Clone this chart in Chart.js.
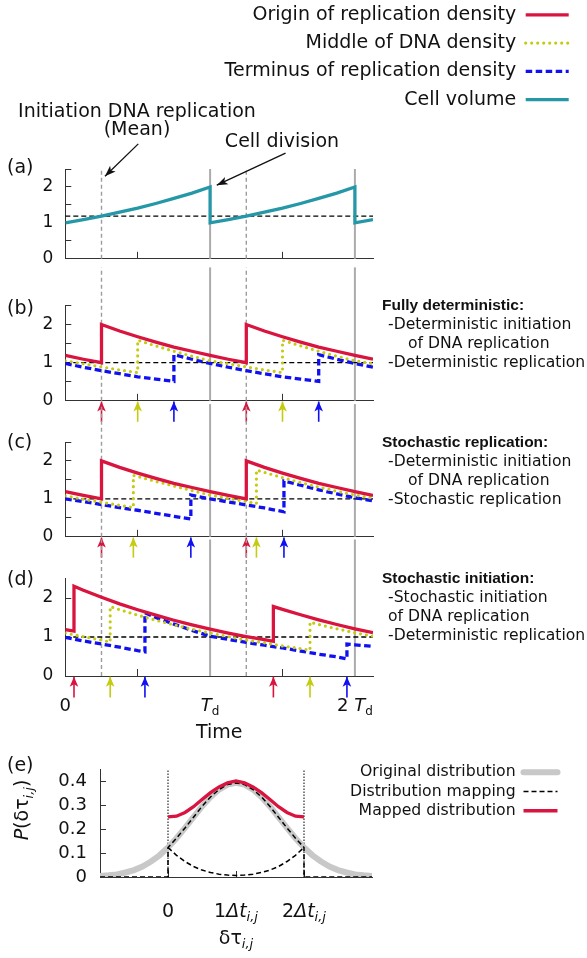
<!DOCTYPE html>
<html><head><meta charset="utf-8">
<script src="https://cdn.jsdelivr.net/npm/chart.js"></script>
<style>
html,body{margin:0;padding:0;background:#fff;}
#fig{position:relative;width:587px;height:958px;overflow:hidden;font-family:"DejaVu Sans";color:#111;}
canvas{position:absolute;}
.c{position:absolute;white-space:nowrap;transform:translate(-50%,-50%);line-height:22px;}
.l{position:absolute;white-space:nowrap;transform:translateY(-50%);line-height:20px;}
.big{font-size:19px;}
.side{font-size:15.6px;}
.hd{font-family:"Liberation Sans";font-weight:bold;font-size:15.5px;}
</style></head><body><div id="fig">
<canvas id="cA" width="587" height="188" style="left:0;top:99px"></canvas>
<canvas id="cB" width="587" height="165" style="left:0;top:264px"></canvas>
<canvas id="cC" width="587" height="164" style="left:0;top:401px"></canvas>
<canvas id="cD" width="587" height="213" style="left:0;top:537px"></canvas>
<canvas id="cE" width="587" height="218" style="left:0;top:740px"></canvas>
<canvas id="legTop" width="400" height="300" style="left:178px;top:-4px"></canvas>
<canvas id="legE" width="300" height="160" style="left:261px;top:761px"></canvas>

<div class="c big" style="left:137px;top:110px">Initiation DNA replication</div>
<div class="c big" style="left:137px;top:128px">(Mean)</div>
<div class="c big" style="left:282px;top:140px">Cell division</div>

<div class="l big" style="left:7px;top:166px">(a)</div>
<div class="l big" style="left:7px;top:307px">(b)</div>
<div class="l big" style="left:7px;top:441px">(c)</div>
<div class="l big" style="left:7px;top:578px">(d)</div>
<div class="l big" style="left:7px;top:764px">(e)</div>

<div class="l hd" style="left:382px;top:305px">Fully deterministic:</div>
<div class="l side" style="left:388px;top:324px">-Deterministic initiation</div>
<div class="l side" style="left:408px;top:343px">of DNA replication</div>
<div class="l side" style="left:388px;top:362px">-Deterministic replication</div>

<div class="l hd" style="left:382px;top:442px">Stochastic replication:</div>
<div class="l side" style="left:388px;top:461px">-Deterministic initiation</div>
<div class="l side" style="left:408px;top:480px">of DNA replication</div>
<div class="l side" style="left:388px;top:499px">-Stochastic replication</div>

<div class="l hd" style="left:382px;top:578px">Stochastic initiation:</div>
<div class="l side" style="left:388px;top:597px">-Stochastic initiation</div>
<div class="l side" style="left:388px;top:616px">of DNA replication</div>
<div class="l side" style="left:388px;top:635px">-Deterministic replication</div>
</div>
<script>
// ================= DATA =================
const timeRange = [0, 2.125];                 // in units of T_d
const timeTicks = [0, 0.5, 1, 1.5, 2];
const densityTicks = [0, 0.5, 1, 1.5, 2, 2.5];
const timeTickLabels = [
  {value: 0, parts: [['0', 'n']]},
  {value: 1, parts: [['T', 'i'], ['d', 'sub']]},
  {value: 2, parts: [['2 ', 'n'], ['T', 'i'], ['d', 'sub']]}
];
const meanInitiationTimes = [0.25, 1.25];
const divisionTimes = [1, 2];
const initiationVolume = 1.19;
const densityThreshold = 1;

// (a) cell volume
const volumeA = [[0,1.00],[0.125,1.09],[0.25,1.19],[0.375,1.30],[0.5,1.41],[0.625,1.54],[0.75,1.68],[0.875,1.83],[1,2.00],[1,1.00],[1.125,1.09],[1.25,1.19],[1.375,1.30],[1.5,1.41],[1.625,1.54],[1.75,1.68],[1.875,1.83],[2,2.00],[2,1.00],[2.125,1.09]];

// (b) fully deterministic
const originB = [[0,1.19],[0.125,1.09],[0.25,1.00],[0.25,2.00],[0.375,1.83],[0.5,1.68],[0.625,1.54],[0.75,1.41],[0.875,1.30],[1,1.19],[1.125,1.09],[1.25,1.00],[1.25,2.00],[1.375,1.83],[1.5,1.68],[1.625,1.54],[1.75,1.41],[1.875,1.30],[2,1.19],[2.125,1.09]];
const middleB = [[0,1.05],[0.125,0.97],[0.25,0.89],[0.375,0.81],[0.5,0.74],[0.5,1.59],[0.625,1.44],[0.75,1.30],[0.875,1.17],[1,1.05],[1.125,0.97],[1.25,0.89],[1.375,0.81],[1.5,0.74],[1.5,1.59],[1.625,1.44],[1.75,1.30],[1.875,1.17],[2,1.05],[2.125,0.97]];
const terminusB = [[0,0.98],[0.125,0.88],[0.25,0.79],[0.375,0.71],[0.5,0.63],[0.625,0.57],[0.75,0.51],[0.75,1.21],[0.875,1.09],[1,0.98],[1.125,0.88],[1.25,0.79],[1.375,0.71],[1.5,0.63],[1.625,0.57],[1.75,0.51],[1.75,1.21],[1.875,1.09],[2,0.98],[2.125,0.88]];
const originEventsB = [0.25, 1.25];
const middleEventsB = [0.5, 1.5];
const terminusEventsB = [0.75, 1.75];

// (c) stochastic replication
const originC = [[0,1.19],[0.125,1.09],[0.25,1.00],[0.25,2.00],[0.375,1.83],[0.5,1.68],[0.625,1.54],[0.75,1.41],[0.875,1.30],[1,1.19],[1.125,1.09],[1.25,1.00],[1.25,2.00],[1.375,1.83],[1.5,1.68],[1.625,1.54],[1.75,1.41],[1.875,1.30],[2,1.19],[2.125,1.09]];
const middleC = [[0,1.08],[0.125,0.99],[0.25,0.91],[0.375,0.83],[0.47,0.77],[0.47,1.62],[0.625,1.46],[0.75,1.34],[0.875,1.22],[1,1.10],[1.125,1.01],[1.25,0.93],[1.32,0.88],[1.32,1.76],[1.375,1.70],[1.5,1.56],[1.625,1.43],[1.75,1.31],[1.875,1.20],[2,1.10],[2.125,1.02]];
const terminusC = [[0,1.00],[0.125,0.93],[0.25,0.85],[0.375,0.77],[0.5,0.70],[0.625,0.62],[0.75,0.54],[0.867,0.47],[0.867,1.10],[1,1.00],[1.125,0.92],[1.25,0.84],[1.375,0.76],[1.51,0.66],[1.51,1.47],[1.625,1.36],[1.75,1.24],[1.875,1.13],[2,1.03],[2.125,0.95]];
const originEventsC = [0.25, 1.25];
const middleEventsC = [0.47, 1.32];
const terminusEventsC = [0.867, 1.51];

// (d) stochastic initiation
const originD = [[0,1.19],[0.06,1.15],[0.06,2.30],[0.125,2.20],[0.25,2.02],[0.375,1.85],[0.5,1.70],[0.625,1.56],[0.75,1.43],[0.875,1.31],[1,1.20],[1.125,1.10],[1.25,1.01],[1.375,0.93],[1.437,0.89],[1.437,1.78],[1.5,1.71],[1.625,1.57],[1.75,1.44],[1.875,1.32],[2,1.21],[2.125,1.11]];
const middleD = [[0,1.10],[0.125,1.01],[0.25,0.92],[0.31,0.87],[0.31,1.78],[0.375,1.70],[0.5,1.56],[0.625,1.43],[0.75,1.31],[0.875,1.20],[1,1.10],[1.125,1.01],[1.25,0.92],[1.375,0.85],[1.5,0.77],[1.625,0.70],[1.69,0.66],[1.69,1.38],[1.75,1.32],[1.875,1.21],[2,1.11],[2.125,1.02]];
const terminusD = [[0,0.99],[0.125,0.90],[0.25,0.82],[0.375,0.74],[0.5,0.65],[0.55,0.62],[0.55,1.62],[0.625,1.50],[0.75,1.33],[0.875,1.17],[1,1.02],[1.125,0.94],[1.25,0.86],[1.375,0.79],[1.5,0.72],[1.625,0.64],[1.75,0.56],[1.875,0.49],[1.945,0.44],[1.945,0.82],[2,0.80],[2.125,0.76]];
const originEventsD = [0.06, 1.437];
const middleEventsD = [0.31, 1.69];
const terminusEventsD = [0.55, 1.945];

// (e) distributions
const deltaRange = [-1, 3];
const deltaTicks = [0, 1, 2];
const probTicks = [0, 0.05, 0.1, 0.15, 0.2, 0.25, 0.3, 0.35, 0.4, 0.45];
const mappingBounds = [0, 2];
const deltaTickLabels = [
  {value: 0, parts: [['0', 'n']]},
  {value: 1, parts: [['1', 'n'], ['Δt', 'i'], ['i,j', 'isub']]},
  {value: 2, parts: [['2', 'n'], ['Δt', 'i'], ['i,j', 'isub']]}
];
const originalDist = [[-1,0.004],[-0.875,0.007],[-0.75,0.011],[-0.625,0.019],[-0.5,0.029],[-0.375,0.044],[-0.25,0.065],[-0.125,0.091],[0,0.124],[0.125,0.163],[0.25,0.206],[0.375,0.251],[0.5,0.296],[0.625,0.336],[0.75,0.367],[0.875,0.388],[1,0.395],[1.125,0.388],[1.25,0.367],[1.375,0.336],[1.5,0.296],[1.625,0.251],[1.75,0.206],[1.875,0.163],[2,0.124],[2.125,0.091],[2.25,0.065],[2.375,0.044],[2.5,0.029],[2.625,0.019],[2.75,0.011],[2.875,0.007],[3,0.004]];
const mappingDirect = [[-1,0],[0,0],[0,0.124],[0.125,0.163],[0.25,0.206],[0.375,0.251],[0.5,0.296],[0.625,0.336],[0.75,0.367],[0.875,0.388],[1,0.395],[1.125,0.388],[1.25,0.367],[1.375,0.336],[1.5,0.296],[1.625,0.251],[1.75,0.206],[1.875,0.163],[2,0.124],[2,0],[3,0]];
const mappingFolded = [[0,0.124],[0.125,0.091],[0.25,0.065],[0.375,0.044],[0.5,0.029],[0.625,0.019],[0.75,0.012],[0.875,0.008],[1,0.006],[1.125,0.008],[1.25,0.012],[1.375,0.019],[1.5,0.029],[1.625,0.044],[1.75,0.065],[1.875,0.091],[2,0.124]];
const mappedDist = [[0,0.252],[0.125,0.255],[0.25,0.271],[0.375,0.295],[0.5,0.325],[0.625,0.354],[0.75,0.378],[0.875,0.395],[1,0.403],[1.125,0.395],[1.25,0.378],[1.375,0.354],[1.5,0.325],[1.625,0.295],[1.75,0.271],[1.875,0.255],[2,0.252]];

// ================= STYLE / RENDER =================
Chart.defaults.font.family = 'DejaVu Sans';
Chart.defaults.color = '#111';
const FF = '"DejaVu Sans"';
const COL = {origin:'#d8143f', middle:'#c4cb10', terminus:'#1010f0', volume:'#2697a7'};
const STY = {
  origin:   {label:'Origin of replication density', borderColor:COL.origin, backgroundColor:COL.origin, borderWidth:3.3},
  middle:   {label:'Middle of DNA density', borderColor:COL.middle, backgroundColor:COL.middle, borderWidth:3.2, borderDash:[0,6], borderCapStyle:'round'},
  terminus: {label:'Terminus of replication density', borderColor:COL.terminus, backgroundColor:COL.terminus, borderWidth:3.3, borderDash:[6.5,3.5]},
  volume:   {label:'Cell volume', borderColor:COL.volume, backgroundColor:COL.volume, borderWidth:3.3}
};
const pts = a => a.map(([x, y]) => ({x, y}));
const series = (arr, sty, extra) => Object.assign({data: pts(arr), pointRadius: 0, fill: false, tension: 0, borderJoinStyle: 'miter'}, sty, extra || {});

function drawRich(ctx, parts, cx, cy, size) {
  const sub = Math.round(size * 0.68);
  const fonts = {n: `${size}px ${FF}`, i: `italic ${size}px ${FF}`, sub: `${sub}px ${FF}`, isub: `italic ${sub}px ${FF}`};
  let total = 0;
  parts.forEach(([t, s]) => { ctx.font = fonts[s]; total += ctx.measureText(t).width; });
  let x = cx - total / 2;
  ctx.textAlign = 'left'; ctx.textBaseline = 'middle';
  parts.forEach(([t, s]) => {
    ctx.font = fonts[s];
    const dy = (s === 'sub' || s === 'isub') ? size * 0.32 : 0;
    ctx.fillText(t, x, cy + dy);
    x += ctx.measureText(t).width;
  });
}

const arrowPlugin = {
  id: 'arrowHeads',
  afterDatasetsDraw(chart) {
    const ctx = chart.ctx;
    chart.data.datasets.forEach((ds, i) => {
      if (!ds.arrowHead) return;
      const p = chart.getDatasetMeta(i).data;
      const a = p[p.length - 2], b = p[p.length - 1];
      const ang = Math.atan2(b.y - a.y, b.x - a.x);
      const {len, half} = ds.arrowHead;
      const bx = b.x - len * Math.cos(ang), by = b.y - len * Math.sin(ang);
      ctx.save();
      ctx.fillStyle = ds.borderColor;
      ctx.beginPath();
      ctx.moveTo(b.x, b.y);
      ctx.lineTo(bx + half * Math.sin(ang), by - half * Math.cos(ang));
      ctx.lineTo(bx + 0.25 * len * Math.cos(ang), by + 0.25 * len * Math.sin(ang));
      ctx.lineTo(bx - half * Math.sin(ang), by + half * Math.cos(ang));
      ctx.closePath();
      ctx.fill();
      ctx.restore();
    });
  }
};

function eventArrows(times, color) {
  return times.map(t => ({data: [{x: t, y: -0.55}, {x: t, y: -0.02}], borderColor: color, borderWidth: 1.6,
    pointRadius: 0, clip: false, arrowHead: {len: 10, half: 4.3}}));
}
function refLines(top) {
  const out = [];
  meanInitiationTimes.forEach(t => out.push({data: [{x: t, y: 0}, {x: t, y: top}], borderColor: '#9c9c9c', borderWidth: 1.4, borderDash: [4, 3], pointRadius: 0, clip: false}));
  divisionTimes.forEach(t => out.push({data: [{x: t, y: 0}, {x: t, y: top}], borderColor: '#ababab', borderWidth: 2, pointRadius: 0, clip: false}));
  return out;
}
const hLine = v => ({data: [{x: timeRange[0], y: v}, {x: timeRange[1], y: v}], borderColor: '#000', borderWidth: 1.3, borderDash: [5, 3], pointRadius: 0});

function panelScales(axisH, showTitle) {
  return {
    x: {type: 'linear', min: timeRange[0], max: timeRange[1],
      afterBuildTicks: s => { s.ticks = timeTicks.map(v => ({value: v})); },
      afterFit: s => { s.height = axisH; },
      grid: {drawOnChartArea: false, tickLength: -7, color: '#333'},
      border: {color: '#333', width: 1},
      ticks: {display: false},
      title: showTitle ? {display: true, text: 'Time', font: {size: 19}, color: '#111', padding: {top: 0, bottom: 6}} : {display: false}},
    y: {type: 'linear', min: 0, max: 2.5,
      afterBuildTicks: s => { s.ticks = densityTicks.map(v => ({value: v})); },
      afterFit: s => { s.width = 65.3; },
      grid: {drawOnChartArea: false, tickLength: -6, color: '#333'},
      border: {color: '#333', width: 1},
      ticks: {font: {size: 17}, color: '#111', padding: 18, callback: v => Number.isInteger(v) ? String(v) : ''}}
  };
}
function baseOptions(padTop, padRight, scales) {
  return {responsive: false, animation: false, devicePixelRatio: 1, events: [],
    layout: {autoPadding: false, padding: {top: padTop, left: 0, right: padRight, bottom: 0}},
    plugins: {legend: {display: false}, tooltip: {enabled: false}},
    scales};
}

// (a)
new Chart(document.getElementById('cA'), {type: 'line', plugins: [arrowPlugin],
  data: {datasets: [
    {data: [{x: 0.504, y: 3.20}, {x: 0.274, y: 2.30}], borderColor: '#111', borderWidth: 1.3, pointRadius: 0, clip: false, arrowHead: {len: 11, half: 4}},
    {data: [{x: 1.521, y: 2.94}, {x: 1.046, y: 2.05}], borderColor: '#111', borderWidth: 1.3, pointRadius: 0, clip: false, arrowHead: {len: 11, half: 4}},
    series(volumeA, STY.volume),
    hLine(initiationVolume),
    ...refLines(2.5)
  ]},
  options: baseOptions(70, 214, panelScales(20.5, false))
});

function densityPanel(id, padTop, axisH, o, m, t, oe, me, te, withTitle, extraPlugins) {
  new Chart(document.getElementById(id), {type: 'line', plugins: [arrowPlugin, ...(extraPlugins || [])],
    data: {datasets: [
      ...eventArrows(oe, COL.origin), ...eventArrows(me, COL.middle), ...eventArrows(te, COL.terminus),
      series(o, STY.origin), series(m, STY.middle), series(t, STY.terminus),
      hLine(densityThreshold),
      ...refLines(3.5)
    ]},
    options: baseOptions(padTop, 214, panelScales(axisH, withTitle))
  });
}
const timeLabelPlugin = {id: 'timeLabels', afterDraw(chart) {
  const xs = chart.scales.x, ctx = chart.ctx;
  ctx.save(); ctx.fillStyle = '#111';
  timeTickLabels.forEach(l => drawRich(ctx, l.parts, xs.getPixelForValue(l.value), chart.chartArea.bottom + 30, 18));
  ctx.restore();
}};
densityPanel('cB', 41.5, 26, originB, middleB, terminusB, originEventsB, middleEventsB, terminusEventsB, false);
densityPanel('cC', 41, 25.5, originC, middleC, terminusC, originEventsC, middleEventsC, terminusEventsC, false);
densityPanel('cD', 41.5, 74, originD, middleD, terminusD, originEventsD, middleEventsD, terminusEventsD, true, [timeLabelPlugin]);

// (e)
const ePlugin = {id: 'eLabels', afterDraw(chart) {
  const xs = chart.scales.x, ctx = chart.ctx, ca = chart.chartArea;
  ctx.save(); ctx.fillStyle = '#111';
  deltaTickLabels.forEach(l => drawRich(ctx, l.parts, xs.getPixelForValue(l.value), ca.bottom + 35, 19));
  drawRich(ctx, [['δτ', 'n'], ['i,j', 'isub']], (ca.left + ca.right) / 2, ca.bottom + 62, 19);
  ctx.translate(23.5, 70);
  ctx.rotate(-Math.PI / 2);
  drawRich(ctx, [['P', 'i'], ['(δτ', 'n'], ['i,j', 'isub'], [')', 'n']], 0, 0, 19);
  ctx.restore();
}};
const STE = {
  original: {label: 'Original distribution', borderColor: '#c8c8c8', backgroundColor: '#c8c8c8', borderWidth: 6, borderCapStyle: 'round'},
  mapping:  {label: 'Distribution mapping', borderColor: '#000', backgroundColor: '#000', borderWidth: 1.5, borderDash: [5, 3]},
  mapped:   {label: 'Mapped distribution', borderColor: COL.origin, backgroundColor: COL.origin, borderWidth: 3.3}
};
new Chart(document.getElementById('cE'), {type: 'line', plugins: [ePlugin],
  data: {datasets: [
    series(mappedDist, STE.mapped),
    series(mappingDirect, STE.mapping),
    series(mappingFolded, STE.mapping, {label: ''}),
    series(originalDist, STE.original),
    ...mappingBounds.map(b => ({data: [{x: b, y: 0}, {x: b, y: 0.45}], borderColor: '#000', borderWidth: 1, borderDash: [1.5, 1.5], pointRadius: 0}))
  ]},
  options: baseOptions(20.5, 215, {
    x: {type: 'linear', min: deltaRange[0], max: deltaRange[1],
      afterBuildTicks: s => { s.ticks = deltaTicks.map(v => ({value: v})); },
      afterFit: s => { s.height = 81; },
      grid: {drawOnChartArea: false, tickLength: -6, color: '#333'}, border: {color: '#333', width: 1},
      ticks: {display: false}},
    y: {type: 'linear', min: 0, max: 0.45,
      afterBuildTicks: s => { s.ticks = probTicks.map(v => ({value: v})); },
      afterFit: s => { s.width = 100; },
      grid: {drawOnChartArea: false, tickLength: -6, color: '#333'}, border: {color: '#333', width: 1},
      ticks: {font: {size: 18}, color: '#111', padding: 19,
        callback: v => Math.abs(v * 10 - Math.round(v * 10)) < 1e-9 ? String(Math.round(v * 10) / 10) : ''}}
  })
});

// legends (line samples carry each dataset's own dash pattern)
function legendChart(id, styles, fontSize, pad, lineW) {
  new Chart(document.getElementById(id), {type: 'line',
    data: {datasets: styles.map(s => Object.assign({data: [], pointRadius: 0}, s))},
    options: {responsive: false, animation: false, devicePixelRatio: 1, events: [],
      layout: {autoPadding: false, padding: 0},
      scales: {x: {type: 'linear', display: false}, y: {display: false}},
      plugins: {tooltip: {enabled: false}, legend: {display: true, position: 'top', align: 'start', rtl: true,
        labels: {usePointStyle: true, pointStyle: 'line', pointStyleWidth: lineW, padding: pad, color: '#111', font: {size: fontSize},
          generateLabels: chart => chart.data.datasets.map((ds, i) => ({
            text: ds.label, datasetIndex: i, hidden: false, fontColor: '#111',
            fillStyle: ds.borderColor, strokeStyle: ds.borderColor, lineWidth: ds.borderWidth,
            lineDash: ds.borderDash || [], lineDashOffset: 0, lineCap: ds.borderCapStyle || 'butt',
            lineJoin: 'miter', pointStyle: 'line', rotation: 0}))}}}}
  });
}
legendChart('legTop', [STY.origin, STY.middle, STY.terminus, STY.volume], 19, 9.3, 43);
legendChart('legE', [STE.original, STE.mapping, STE.mapped], 15.7, 3.5, 34);
</script></body></html>
